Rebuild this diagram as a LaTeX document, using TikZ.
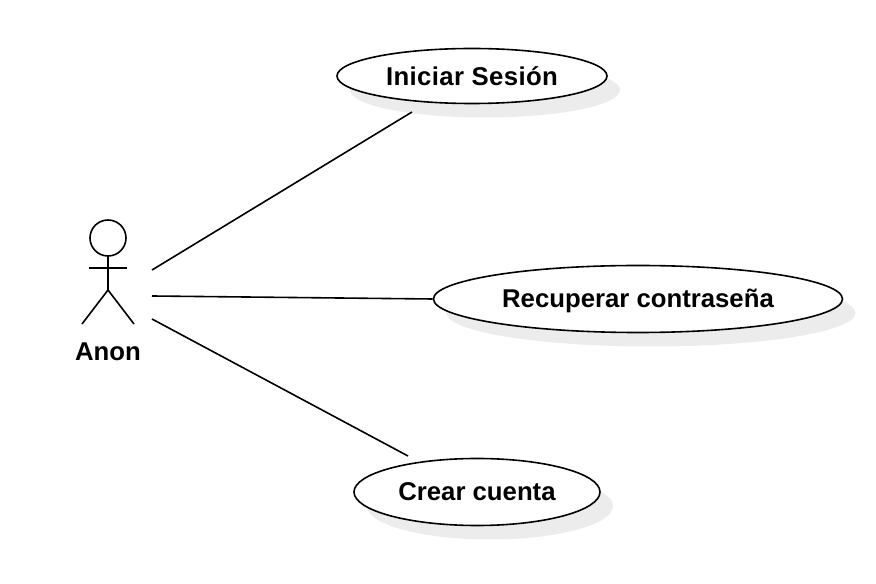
\documentclass[tikz,border=0pt]{standalone}
\usepackage{fontspec}
\setmainfont{Liberation Sans}
\usetikzlibrary{shapes.geometric}
\definecolor{shadowgray}{RGB}{236,236,236}
\tikzset{
  px/.style={x=0.75pt,y=-0.75pt},
  casefont/.style={font=\bfseries\fontsize{19.3pt}{22pt}\selectfont},
  usecase/.style={ellipse,draw=black,line width=1.2pt,fill=white,inner sep=0pt,casefont},
  shadowcase/.style={ellipse,fill=shadowgray,draw=none,inner sep=0pt},
  link/.style={draw=black,line width=1.2pt},
  label/.style={casefont,inner sep=0pt}
}
\begin{document}
\begin{tikzpicture}[px]
\useasboundingbox (0,0) rectangle (876,584);
\fill[white] (0,0) rectangle (876,584);
\node[shadowcase,minimum width=202.5pt,minimum height=41.25pt] at (485,90) {};
\node[shadowcase,minimum width=306.75pt,minimum height=50.25pt] at (651,313) {};
\node[shadowcase,minimum width=184.5pt,minimum height=50.25pt] at (490,506) {};
\node[usecase,minimum width=202.5pt,minimum height=41.25pt] (a) at (472,76) {};
\node[label] at (472,76) {\addfontfeature{LetterSpace=1.5}Iniciar Sesión};
\node[usecase,minimum width=306.75pt,minimum height=50.25pt] (b) at (638,299) {};
\node[label] at (638,300.5) {Recuperar contraseña};
\node[usecase,minimum width=184.5pt,minimum height=50.25pt] (c) at (477,492) {};
\node[label] at (477,492) {Crear cuenta};
\node[label] (anon) at (108,352) {Anon};
\coordinate (s1) at (152,270);
\coordinate (s2) at (152,296);
\coordinate (s3) at (152,319);
\coordinate (e1) at (412,112);
\coordinate (e3) at (408,456);
\draw[link] (s1) -- (e1);
\draw[link] (s2) -- (b.west);
\draw[link] (s3) -- (e3);
\draw[link] (108,238) circle[radius=18];
\draw[link] (108,256) -- (108,290);
\draw[link] (89,268) -- (127,268);
\draw[link] (108,290) -- (82,324);
\draw[link] (108,290) -- (134,324);
\end{tikzpicture}
\end{document}
